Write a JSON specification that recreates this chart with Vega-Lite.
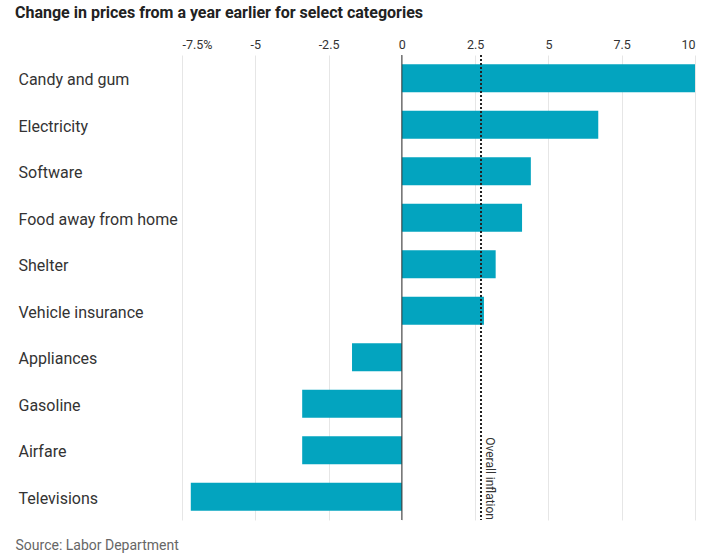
{
  "$schema": "https://vega.github.io/schema/vega-lite/v6.json",
  "width": 513,
  "height": 465,
  "autosize": {"type": "none"},
  "padding": {"left": 182, "top": 55, "right": 12, "bottom": 39},
  "background": "white",
  "title": {
    "text": "Change in prices from a year earlier for select categories",
    "anchor": "start",
    "frame": "group",
    "dx": -167,
    "offset": 17,
    "fontSize": 16,
    "font": "Roboto",
    "fontWeight": "bold",
    "color": "#222"
  },
  "config": {"view": {"stroke": null}},
  "datasets": {
    "cats": [
      {"category": "Candy and gum", "change": 10.0},
      {"category": "Electricity", "change": 6.7},
      {"category": "Software", "change": 4.4},
      {"category": "Food away from home", "change": 4.1},
      {"category": "Shelter", "change": 3.2},
      {"category": "Vehicle insurance", "change": 2.8},
      {"category": "Appliances", "change": -1.7},
      {"category": "Gasoline", "change": -3.4},
      {"category": "Airfare", "change": -3.4},
      {"category": "Televisions", "change": -7.2}
    ],
    "inflation": [{"label": "Overall inflation", "value": 2.7}]
  },
  "layer": [
    {
      "data": {"name": "cats"},
      "mark": {"type": "bar", "color": "#03a4bf"},
      "encoding": {
        "y": {
          "field": "category",
          "type": "nominal",
          "sort": null,
          "scale": {"paddingInner": 0.4, "paddingOuter": 0.2},
          "axis": {
            "title": "Source: Labor Department",
            "titleAngle": 0,
            "titleAlign": "left",
            "titleBaseline": "middle",
            "titleX": -167,
            "titleY": 490,
            "titleFontSize": 14,
            "titleFontWeight": "normal",
            "titleColor": "#666",
            "titleFont": "Roboto",
            "labelAlign": "left",
            "labelBaseline": "middle",
            "labelOffset": 2,
            "labelPadding": 164,
            "ticks": false,
            "domain": false,
            "grid": false,
            "labelFontSize": 16,
            "labelColor": "#333",
            "labelFont": "Roboto",
            "labelLimit": 300
          }
        },
        "x": {
          "field": "change",
          "type": "quantitative",
          "scale": {"domain": [-7.5, 10], "nice": false, "zero": false},
          "axis": {
            "orient": "top",
            "title": null,
            "values": [-7.5, -5, -2.5, 0, 2.5, 5, 7.5, 10],
            "labelExpr": "datum.value == -7.5 ? '-7.5%' : '' + datum.value",
            "grid": true,
            "gridColor": "#e6e6e6",
            "domain": false,
            "ticks": false,
            "labelPadding": 4,
            "labelFontSize": 12.5,
            "labelColor": "#333",
            "labelFont": "Roboto"
          }
        }
      }
    },
    {
      "data": {"values": [{"zero": 0}]},
      "mark": {"type": "rule", "color": "#333", "strokeWidth": 1},
      "encoding": {"x": {"field": "zero", "type": "quantitative"}}
    },
    {
      "data": {"name": "inflation"},
      "mark": {"type": "rule", "color": "#222", "strokeWidth": 2, "strokeDash": [2, 2]},
      "encoding": {"x": {"field": "value", "type": "quantitative"}}
    },
    {
      "data": {"name": "inflation"},
      "mark": {"type": "text", "angle": 90, "align": "right", "baseline": "bottom", "dy": -2, "fontSize": 12, "color": "#333", "font": "Roboto"},
      "encoding": {
        "x": {"field": "value", "type": "quantitative"},
        "y": {"value": "height"},
        "text": {"field": "label"}
      }
    }
  ]
}
